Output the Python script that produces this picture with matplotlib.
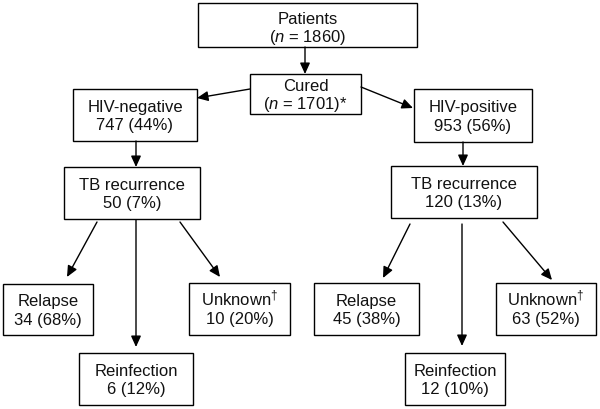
import matplotlib
matplotlib.use("Agg")
import matplotlib.pyplot as plt
from matplotlib.patches import Rectangle

plt.rcParams['font.family'] = ['Liberation Sans', 'DejaVu Sans']
plt.rcParams['mathtext.fontset'] = 'custom'
plt.rcParams['mathtext.rm'] = 'Liberation Sans'
plt.rcParams['mathtext.it'] = 'Liberation Sans:italic'
plt.rcParams['mathtext.bf'] = 'Liberation Sans:bold'

# ---- data ----
total_patients = 1860
cured_n = 1701
groups = ["HIV-negative", "HIV-positive"]
group_n = [747, 953]
group_pct = [44, 56]
recurrence_n = [50, 120]
recurrence_pct = [7, 13]
relapse_n = [34, 45]
relapse_pct = [68, 38]
reinfection_n = [6, 12]
reinfection_pct = [12, 10]
unknown_n = [10, 63]
unknown_pct = [20, 52]

# ---- layout (pixel-like coordinates, y downward) ----
boxes = {
    "patients": (198, 3, 417, 47),
    "cured": (250, 74, 361, 114),
    "grp0": (73, 89, 197, 141),
    "grp1": (414, 89, 532, 142),
    "rec0": (64, 167, 200, 219),
    "rec1": (391, 166, 537, 218),
    "rel0": (3, 284, 93, 335),
    "unk0": (189, 283, 290, 335),
    "rei0": (79, 353, 193, 405),
    "rel1": (314, 283, 419, 335),
    "unk1": (496, 283, 596, 335),
    "rei1": (405, 353, 505, 405),
}

texts = {
    "patients": ("Patients", r"($n$ = %d)" % total_patients),
    "cured": ("Cured", r"($n$ = %d)*" % cured_n),
}
for i in range(2):
    texts["grp%d" % i] = (groups[i], "%d (%d%%)" % (group_n[i], group_pct[i]))
    texts["rec%d" % i] = ("TB recurrence", "%d (%d%%)" % (recurrence_n[i], recurrence_pct[i]))
    texts["rel%d" % i] = ("Relapse", "%d (%d%%)" % (relapse_n[i], relapse_pct[i]))
    texts["unk%d" % i] = (r"Unknown$^{\dagger}$", "%d (%d%%)" % (unknown_n[i], unknown_pct[i]))
    texts["rei%d" % i] = ("Reinfection", "%d (%d%%)" % (reinfection_n[i], reinfection_pct[i]))

arrows = [
    ((305, 47), (305, 74)),
    ((250, 89), (197, 98)),
    ((361, 87), (413, 108)),
    ((136, 141), (136, 167)),
    ((463, 142), (463, 166)),
    ((97, 222), (67, 277)),
    ((136, 220), (136, 347)),
    ((180, 222), (220, 277)),
    ((410, 224), (383, 278)),
    ((462, 224), (462, 346)),
    ((503, 222), (552, 280)),
]

W, H = 600, 409
fig = plt.figure(figsize=(6.0, 4.09), dpi=100)
ax = fig.add_axes([0, 0, 1, 1])
ax.set_xlim(0, W)
ax.set_ylim(H, 0)
ax.axis('off')

txt_color = '#111111'
for key, (x0, y0, x1, y1) in boxes.items():
    ax.add_patch(Rectangle((x0, y0), x1 - x0, y1 - y0, fill=False,
                           edgecolor='black', lw=1.0))
    cx = (x0 + x1) / 2
    cy = (y0 + y1) / 2
    if key == "patients":
        cy += 2
    l1, l2 = texts[key]
    ax.text(cx, cy - 3.3, l1, ha='center', va='baseline', fontsize=12, color=txt_color)
    ax.text(cx, cy + 15.2, l2, ha='center', va='baseline', fontsize=12, color=txt_color)

for start, end in arrows:
    ax.annotate("", xy=end, xytext=start,
                arrowprops=dict(arrowstyle='-|>,head_length=0.55,head_width=0.25',
                                color='black', lw=1.0, mutation_scale=12,
                                shrinkA=0, shrinkB=0))

fig.savefig("out.png", dpi=100, facecolor='white')
